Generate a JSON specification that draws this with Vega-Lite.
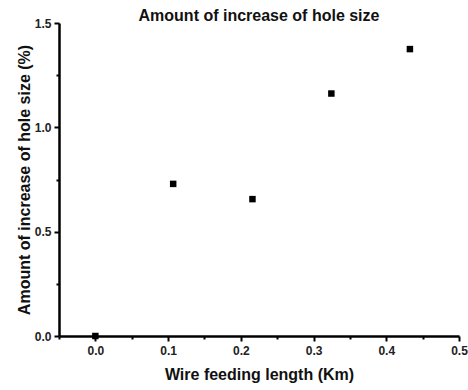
{
  "$schema": "https://vega.github.io/schema/vega-lite/v6.json",
  "width": 400,
  "height": 313,
  "autosize": "none",
  "padding": {"left": 59, "top": 23, "right": 9, "bottom": 54},
  "background": "white",
  "title": {
    "text": "Amount of increase of hole size",
    "font": "Liberation Sans",
    "fontSize": 16,
    "fontWeight": "bold",
    "color": "#111",
    "anchor": "middle",
    "frame": "group",
    "offset": 2,
    "dy": 22,
    "baseline": "alphabetic"
  },
  "config": {
    "view": {"stroke": null},
    "axis": {
      "grid": false,
      "domainColor": "#000",
      "domainWidth": 2.5,
      "tickColor": "#000",
      "tickWidth": 2,
      "labelFont": "Liberation Sans",
      "labelFontSize": 12,
      "labelFontWeight": "bold",
      "labelColor": "#222",
      "titleFont": "Liberation Sans",
      "titleFontSize": 16,
      "titleFontWeight": "bold",
      "titleColor": "#111"
    }
  },
  "data": {
    "values": [
      {"x": 0.0, "y": 0.0},
      {"x": 0.107, "y": 0.729},
      {"x": 0.216, "y": 0.656},
      {"x": 0.3245, "y": 1.162},
      {"x": 0.4325, "y": 1.375}
    ]
  },
  "mark": {"type": "square", "size": 42, "color": "#000", "opacity": 1, "clip": false},
  "encoding": {
    "x": {
      "field": "x",
      "type": "quantitative",
      "scale": {"domain": [-0.05, 0.5], "nice": false, "zero": false},
      "axis": {
        "title": "Wire feeding length (Km)",
        "titlePadding": 10,
        "values": [-0.05, 0, 0.05, 0.1, 0.15, 0.2, 0.25, 0.3, 0.35, 0.4, 0.45, 0.5],
        "labelExpr": "abs(round(datum.value*10) - datum.value*10) < 0.001 ? format(datum.value, '.1f') : ''",
        "tickSize": {"condition": {"test": "abs(round(datum.value*10) - datum.value*10) < 0.001", "value": 5}, "value": 3},
        "labelPadding": 4,
        "labelFlush": false,
        "labelOverlap": false
      }
    },
    "y": {
      "field": "y",
      "type": "quantitative",
      "scale": {"domain": [0, 1.5], "nice": false},
      "axis": {
        "title": "Amount of increase of hole size (%)",
        "titlePadding": 2,
        "values": [0, 0.25, 0.5, 0.75, 1.0, 1.25, 1.5],
        "labelExpr": "abs(round(datum.value*2) - datum.value*2) < 0.001 ? format(datum.value, '.1f') : ''",
        "tickSize": {"condition": {"test": "abs(round(datum.value*2) - datum.value*2) < 0.001", "value": 5}, "value": 3},
        "labelPadding": 3,
        "labelFlush": false,
        "labelOverlap": false
      }
    }
  }
}
